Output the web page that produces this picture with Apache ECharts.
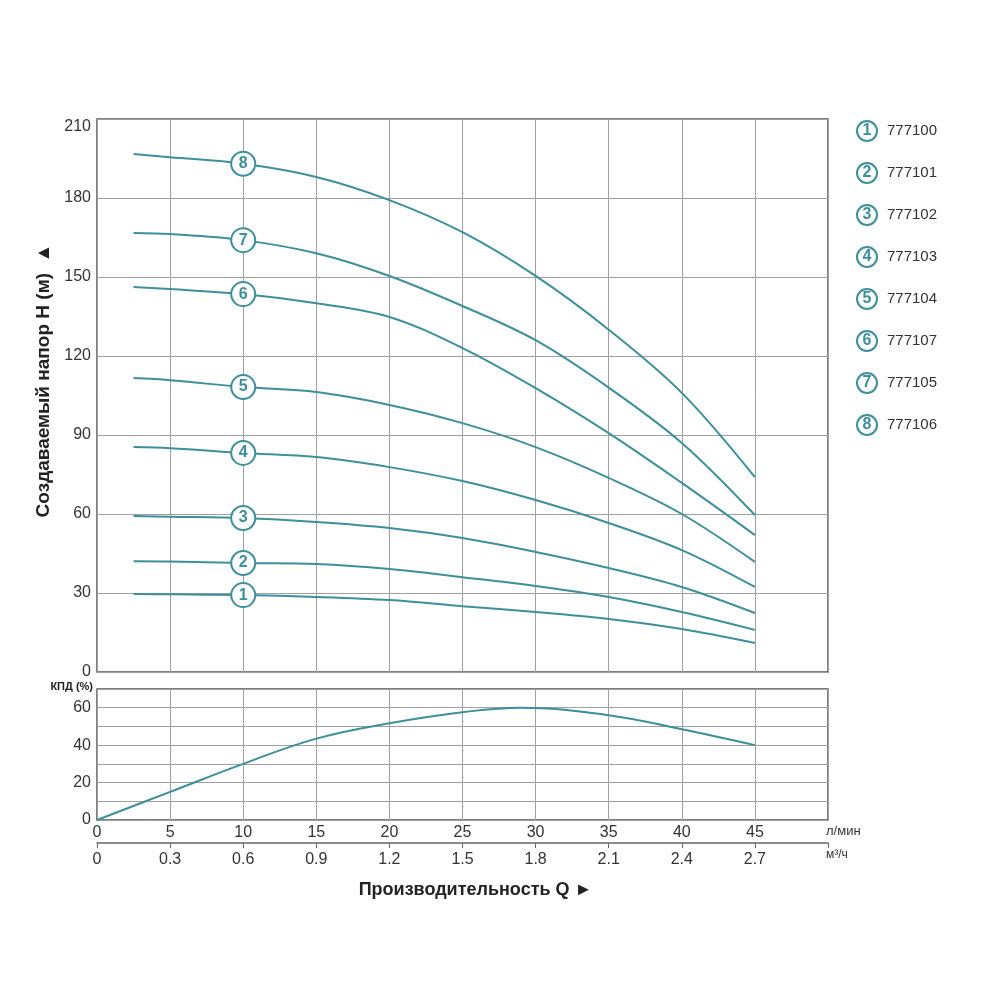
<!DOCTYPE html>
<html>
<head>
<meta charset="utf-8">
<script src="https://cdn.jsdelivr.net/npm/echarts@6/dist/echarts.min.js"></script>
<style>
  html, body { margin: 0; padding: 0; background: #fff; }
  #chart { width: 1000px; height: 1000px; }
</style>
</head>
<body>
<div id="chart"></div>
<script>
// flow, л/мин
var flowLpm = [2.5, 5, 10, 15, 20, 25, 30, 35, 40, 45];

// head curves H (м), one per pump
var head1 = [29.6, 29.5, 29.2, 28.5, 27.3, 25.0, 22.8, 20.1, 16.3, 11.0];
var head2 = [42.1, 42.0, 41.4, 41.0, 39.1, 36.0, 32.7, 28.5, 22.8, 16.0];
var head3 = [59.2, 59.0, 58.5, 57.0, 54.7, 50.9, 45.6, 39.5, 32.3, 22.4];
var head4 = [85.4, 85.0, 83.2, 81.6, 77.8, 72.5, 65.3, 56.6, 46.3, 32.3];
var head5 = [111.6, 110.8, 108.2, 106.3, 101.4, 94.5, 85.4, 73.7, 60.0, 41.8];
var head6 = [146.2, 145.4, 143.5, 140.0, 134.8, 123.0, 107.8, 90.7, 71.8, 52.0];
var head7 = [166.7, 166.3, 164.0, 159.0, 150.4, 139.0, 126.0, 108.0, 87.0, 59.6];
var head8 = [196.7, 195.5, 193.0, 188.0, 179.2, 167.0, 150.4, 130.0, 106.0, 74.0];

var models = ['777100', '777101', '777102', '777103', '777104', '777107', '777105', '777106'];

// efficiency КПД (%)
var effFlow = [0, 5, 10, 15, 20, 25, 29, 35, 40, 45];
var effValue = [0, 15, 30, 43.5, 51.7, 57.6, 60, 56, 48.5, 40];

var markerFlow = 10; // where the numbered circles sit

var teal = '#3d8f9c';
var gridColor = '#a0a0a0';
var font = 'Arial, "Liberation Sans", sans-serif';

var heads = [head1, head2, head3, head4, head5, head6, head7, head8];

var series = [];
heads.forEach(function (h, i) {
    series.push({
        name: models[i],
        type: 'line',
        xAxisIndex: 0,
        yAxisIndex: 0,
        smooth: 0.35,
        showSymbol: false,
        lineStyle: { color: teal, width: 2 },
        itemStyle: { color: teal },
        data: flowLpm.map(function (q, k) { return [q, h[k]]; })
    });
});

// numbered circles on each curve
series.push({
    type: 'scatter',
    xAxisIndex: 0,
    yAxisIndex: 0,
    z: 5,
    symbolSize: 24,
    itemStyle: { color: '#fff', borderColor: teal, borderWidth: 2, opacity: 1 },
    label: {
        show: true,
        position: 'inside',
        color: teal,
        fontSize: 16,
        fontWeight: 'bold',
        fontFamily: font,
        formatter: function (p) { return String(p.dataIndex + 1); }
    },
    data: heads.map(function (h) { return [markerFlow, h[flowLpm.indexOf(markerFlow)]]; })
});

series.push({
    type: 'line',
    xAxisIndex: 1,
    yAxisIndex: 1,
    smooth: 0.4,
    showSymbol: false,
    lineStyle: { color: teal, width: 2 },
    data: effFlow.map(function (q, k) { return [q, effValue[k]]; })
});

var option = {
    animation: false,
    backgroundColor: '#fff',
    textStyle: { fontFamily: font },
    grid: [
        { left: 97, right: 172, top: 119, height: 553, show: true, borderColor: '#555', borderWidth: 1.5 },
        { left: 97, right: 172, top: 689, height: 131, show: true, borderColor: '#555', borderWidth: 1.5 }
    ],
    legend: {
        orient: 'vertical',
        left: 851,
        top: 120,
        padding: 0,
        itemGap: 20,
        itemWidth: 0,
        itemHeight: 0,
        selectedMode: false,
        data: models,
        formatter: function (name) {
            return '{c|' + (models.indexOf(name) + 1) + '}{t|' + name + '}';
        },
        textStyle: {
            rich: {
                c: {
                    width: 20, height: 20, lineHeight: 20, align: 'center',
                    borderColor: teal, borderWidth: 2, borderRadius: 12,
                    color: teal, fontSize: 16, fontWeight: 'bold', fontFamily: font
                },
                t: { color: '#333', fontSize: 15, fontFamily: font, padding: [0, 0, 0, 10] }
            }
        }
    },
    xAxis: [
        {
            type: 'value', gridIndex: 0, min: 0, max: 50, interval: 5,
            axisLine: { show: false }, axisTick: { show: false }, axisLabel: { show: false },
            splitLine: { lineStyle: { color: gridColor, width: 1 } }
        },
        {
            type: 'value', gridIndex: 1, min: 0, max: 50, interval: 5,
            axisLine: { show: false }, axisTick: { show: false },
            axisLabel: {
                color: '#333', fontSize: 16, margin: 5,
                formatter: function (v) { return v >= 50 ? '' : String(v); }
            },
            splitLine: { lineStyle: { color: gridColor, width: 1 } }
        },
        {
            type: 'value', gridIndex: 1, position: 'bottom', offset: 23,
            min: 0, max: 3, interval: 0.3,
            axisLine: { show: true, lineStyle: { color: '#666', width: 1.5 } },
            axisTick: { show: true, length: 5, lineStyle: { color: '#666' } },
            splitLine: { show: false },
            axisLabel: {
                color: '#333', fontSize: 16, margin: 9,
                formatter: function (v) { return v >= 2.95 ? '' : String(Math.round(v * 10) / 10); }
            },
            name: 'Производительность Q ►',
            nameLocation: 'middle',
            nameGap: 38,
            nameTextStyle: { color: '#222', fontSize: 18, fontWeight: 'bold', padding: [0, 0, 0, 26] }
        }
    ],
    yAxis: [
        {
            type: 'value', gridIndex: 0, min: 0, max: 210, interval: 30,
            axisLine: { show: false }, axisTick: { show: false },
            axisLabel: { color: '#333', fontSize: 16, margin: 6, verticalAlignMaxLabel: 'top' },
            splitLine: { lineStyle: { color: gridColor, width: 1 } },
            name: 'Создаваемый напор H (м)  ▲',
            nameLocation: 'middle',
            nameGap: 37,
            nameTextStyle: { color: '#222', fontSize: 19, fontWeight: 'bold', padding: [0, 0, 0, 30] }
        },
        {
            type: 'value', gridIndex: 1, min: 0, max: 70, interval: 10,
            axisLine: { show: false }, axisTick: { show: false },
            axisLabel: {
                color: '#333', fontSize: 16, margin: 6,
                formatter: function (v) { return v % 20 === 0 && v <= 60 ? String(v) : ''; }
            },
            splitLine: { lineStyle: { color: gridColor, width: 1 } },
            name: 'КПД (%)',
            nameLocation: 'end',
            nameGap: 2,
            nameTextStyle: { color: '#222', fontSize: 11, fontWeight: 'bold', align: 'right', verticalAlign: 'middle', padding: [0, 4, 0, 0] }
        }
    ],
    graphic: [
        { type: 'text', left: 826, top: 825, style: { text: 'л/мин', fill: '#333', fontSize: 13, fontFamily: font } },
        { type: 'text', left: 826, top: 849, style: { text: 'м³/ч', fill: '#333', fontSize: 12, fontFamily: font } }
    ],
    series: series
};

var myChart = echarts.init(document.getElementById('chart'));
myChart.setOption(option);
</script>
</body>
</html>
